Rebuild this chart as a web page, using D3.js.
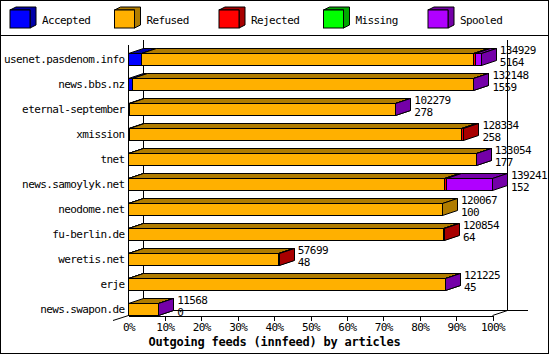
<!DOCTYPE html>
<html>
<head>
<meta charset="utf-8">
<script src="https://cdn.jsdelivr.net/npm/d3@7"></script>
<style>
  body { margin: 0; background: #fff; }
  svg text { font-family: "DejaVu Sans Mono", monospace; }
</style>
</head>
<body>
<div id="chart"></div>
<script>
// feeds, top to bottom
var feeds = ["usenet.pasdenom.info", "news.bbs.nz", "eternal-september", "xmission", "tnet",
  "news.samoylyk.net", "neodome.net", "fu-berlin.de", "weretis.net", "erje", "news.swapon.de"];

// article counts per feed (offered = sum of all five)
var offered  = [134929, 132148, 102279, 128334, 133054, 139241, 120067, 120854, 57699, 121225, 11568];
var accepted = [5164, 1559, 278, 258, 177, 152, 100, 64, 48, 45, 0];
var rejected = [650, 0, 0, 900, 0, 800, 0, 200, 150, 0, 0];
var missing  = [0, 0, 0, 0, 0, 0, 0, 0, 0, 0, 0];
var spooled  = [2200, 100, 150, 0, 100, 17700, 0, 0, 0, 150, 50];
// refused is what is left over
var refused = offered.map(function (o, i) { return o - accepted[i] - rejected[i] - missing[i] - spooled[i]; });

var seriesNames = ["Accepted", "Refused", "Rejected", "Missing", "Spooled"];
var seriesValues = [accepted, refused, rejected, missing, spooled];
var frontColors = ["#0000ff", "#ffb000", "#ff0000", "#00ff00", "#b000ff"];
var sideColors = ["#0000a8", "#b07c00", "#a80000", "#00a800", "#7400a8"];

var xTicks = [0, 0.1, 0.2, 0.3, 0.4, 0.5, 0.6, 0.7, 0.8, 0.9, 1];

var width = 550, height = 355;
var depthX = 15, depthY = 5;

var svg = d3.select("#chart").append("svg")
    .attr("width", width)
    .attr("height", height);

// outer frame and legend separator
svg.append("rect")
    .attr("x", 0.5).attr("y", 0.5)
    .attr("width", 548).attr("height", 353)
    .attr("fill", "none").attr("stroke", "black")
    .attr("shape-rendering", "crispEdges");
svg.append("line")
    .attr("x1", 0).attr("x2", 549).attr("y1", 35.5).attr("y2", 35.5)
    .attr("stroke", "black").attr("shape-rendering", "crispEdges");

// Legend
var legend = svg.selectAll(".legend")
    .data(seriesNames)
    .enter().append("g")
    .attr("transform", (d, i) => `translate(${10 + i * 104.5}, 10)`);

legend.append("polygon")
    .attr("points", "0,0 6,-3 26,-3 26,15 20,18 20,0")
    .attr("fill", (d, i) => sideColors[i])
    .attr("stroke", "black");
legend.append("rect")
    .attr("x", 0).attr("y", 0).attr("width", 20).attr("height", 18)
    .attr("fill", (d, i) => frontColors[i])
    .attr("stroke", "black");
legend.append("text")
    .attr("x", 32).attr("y", 13.5)
    .attr("font-size", "11px")
    .attr("letter-spacing", "-0.6px")
    .text(d => d);

// Scales
var maxOffered = d3.max(offered);
var x = d3.scaleLinear().domain([0, 1]).range([128, 492]);
var y = d3.scaleBand().domain(feeds).range([40, 315]);

// back wall
var back = svg.append("g").attr("stroke", "black").attr("shape-rendering", "crispEdges");
back.append("line").attr("x1", 143.5).attr("x2", 143.5).attr("y1", 40).attr("y2", 310.5);
back.append("line").attr("x1", 507.5).attr("x2", 507.5).attr("y1", 40).attr("y2", 310.5);
back.append("line").attr("x1", 143.5).attr("x2", 528).attr("y1", 310.5).attr("y2", 310.5);

// front axis
svg.append("line")
    .attr("x1", 128.5).attr("x2", 128.5).attr("y1", 45).attr("y2", 315.5)
    .attr("stroke", "black").attr("shape-rendering", "crispEdges");
svg.append("line")
    .attr("x1", 113).attr("y1", 320.5).attr("x2", 128.5).attr("y2", 315.5)
    .attr("stroke", "black");
svg.append("line")
    .attr("x1", 492.5).attr("y1", 315.5).attr("x2", 507.5).attr("y2", 310.5)
    .attr("stroke", "black");

var xAxis = svg.append("g")
    .attr("transform", "translate(0.5, 315.5)")
    .call(d3.axisBottom(x).tickValues(xTicks).tickFormat(d3.format(".0%")).tickSize(5).tickSizeOuter(0).tickPadding(3));
xAxis.select(".domain").attr("stroke", "black").attr("shape-rendering", "crispEdges");
xAxis.selectAll(".tick line").attr("stroke", "black").attr("shape-rendering", "crispEdges")
    .filter(d => d === 0).remove();
xAxis.selectAll("text")
    .attr("fill", "black")
    .attr("font-family", "DejaVu Sans Mono, monospace")
    .attr("font-size", "11px")
    .attr("letter-spacing", "-0.6px");

// axis title
svg.append("text")
    .attr("x", 274.5).attr("y", 346)
    .attr("text-anchor", "middle")
    .attr("font-size", "12px")
    .attr("font-weight", "bold")
    .attr("letter-spacing", "-0.22px")
    .text("Outgoing feeds (innfeed) by articles");

// category labels
svg.selectAll(".feedLabel")
    .data(feeds)
    .enter().append("text")
    .attr("x", 124.5)
    .attr("y", d => y(d) + 23)
    .attr("text-anchor", "end")
    .attr("font-size", "11px")
    .attr("letter-spacing", "-0.6px")
    .text(d => d);

// Bars, stacked left to right
var bars = svg.append("g").attr("stroke", "black").attr("stroke-width", 1);
feeds.forEach(function (feed, i) {
    var top = y(feed) + 13.5, bottom = top + 12;
    var start = 0;
    seriesValues.forEach(function (vals, s) {
        var v = vals[i];
        if (!v) return;
        var x0 = Math.round(x(start / maxOffered)) + 0.5;
        var x1 = Math.round(x((start + v) / maxOffered)) + 0.5;
        start += v;
        bars.append("polygon")
            .attr("points", [[x0, top], [x0 + depthX, top - depthY], [x1 + depthX, top - depthY], [x1, top]].join(" "))
            .attr("fill", sideColors[s]);
        bars.append("polygon")
            .attr("points", [[x1, top], [x1 + depthX, top - depthY], [x1 + depthX, bottom - depthY], [x1, bottom]].join(" "))
            .attr("fill", sideColors[s]);
        bars.append("rect")
            .attr("x", x0).attr("y", top)
            .attr("width", x1 - x0).attr("height", bottom - top)
            .attr("fill", frontColors[s])
            .attr("shape-rendering", "crispEdges");
    });

    // offered and accepted counts
    var lx = x(offered[i] / maxOffered) + depthX + 4;
    svg.append("text")
        .attr("x", lx).attr("y", top)
        .attr("font-size", "11px")
        .attr("letter-spacing", "-0.6px")
        .text(offered[i]);
    svg.append("text")
        .attr("x", lx).attr("y", bottom)
        .attr("font-size", "11px")
        .attr("letter-spacing", "-0.6px")
        .text(accepted[i]);
});
</script>
</body>
</html>
